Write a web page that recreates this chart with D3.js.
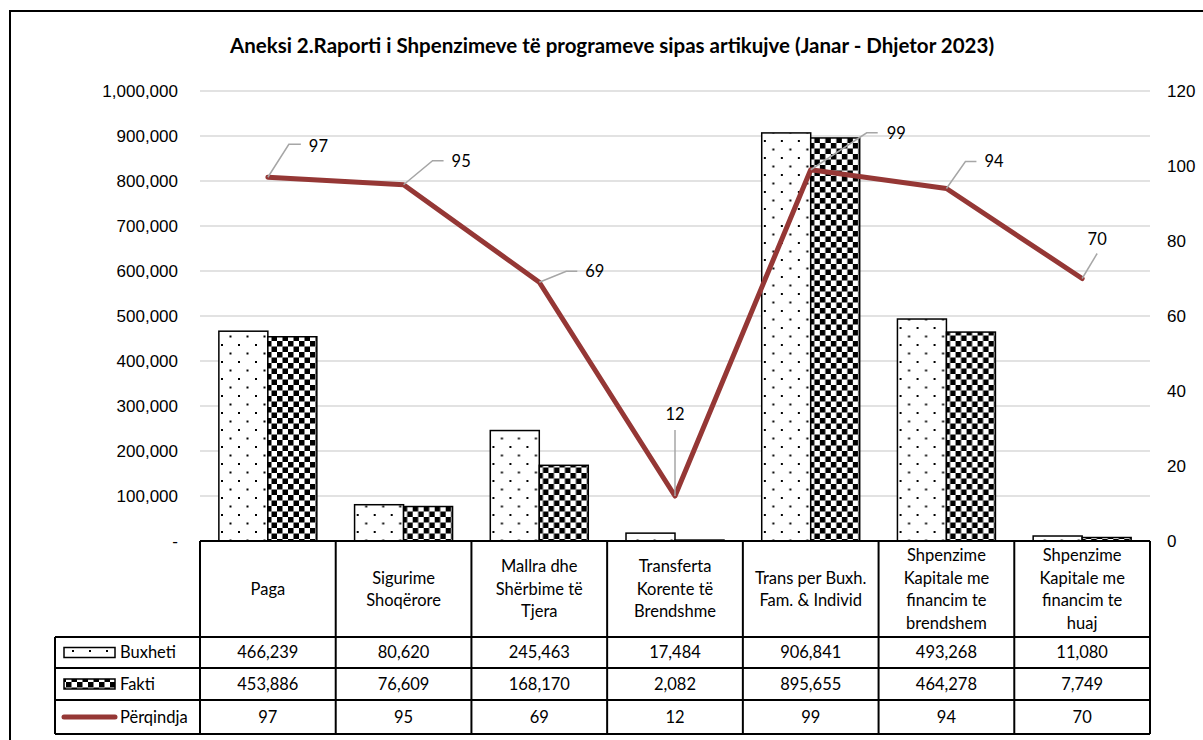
<!DOCTYPE html>
<html>
<head>
<meta charset="UTF-8">
<title>Aneksi 2</title>
<script src="https://cdn.jsdelivr.net/npm/d3@7"></script>
<style>
  body { margin: 0; background: #fff; }
  svg { display: block; font-family: Lato, "Open Sans", sans-serif; }
  .tick text { font-size: 17px; fill: #000; }
  .cell { font-size: 16.5px; fill: #000; }
</style>
</head>
<body>
<svg id="chart" width="1203" height="740"></svg>
<script>
// data
var categories = [
  "Paga",
  "Sigurime\nShoqërore",
  "Mallra dhe\nShërbime të\nTjera",
  "Transferta\nKorente të\nBrendshme",
  "Trans per Buxh.\nFam. & Individ",
  "Shpenzime\nKapitale me\nfinancim te\nbrendshem",
  "Shpenzime\nKapitale me\nfinancim te\nhuaj"
];
var buxheti = [466239, 80620, 245463, 17484, 906841, 493268, 11080];
var fakti = [453886, 76609, 168170, 2082, 895655, 464278, 7749];
var perqindja = [97, 95, 69, 12, 99, 94, 70];
var leftTicks = [0, 100000, 200000, 300000, 400000, 500000, 600000, 700000, 800000, 900000, 1000000];
var rightTicks = [0, 20, 40, 60, 80, 100, 120];
var seriesNames = ["Buxheti", "Fakti", "Përqindja"];

var svg = d3.select("#chart");
var plot = {left: 200, right: 1150, top: 91, bottom: 541};
var lineColor = "#953735";

// outer frame
svg.append("rect").attr("x", 10).attr("y", 11).attr("width", 1300).attr("height", 800)
  .attr("fill", "none").attr("stroke", "#000").attr("stroke-width", 2);

svg.append("text")
  .attr("x", 612).attr("y", 53)
  .attr("text-anchor", "middle")
  .attr("font-size", 20.5).attr("font-weight", "bold")
  .text("Aneksi 2.Raporti i Shpenzimeve të programeve sipas artikujve (Janar - Dhjetor 2023)");

// patterns
var defs = svg.append("defs");
var dots = defs.append("pattern").attr("id", "dots")
  .attr("patternUnits", "userSpaceOnUse").attr("width", 17).attr("height", 17);
dots.append("rect").attr("width", 17).attr("height", 17).attr("fill", "#fff");
dots.append("rect").attr("x", 4).attr("y", 4).attr("width", 2).attr("height", 2).attr("fill", "#000");
dots.append("rect").attr("x", 12.5).attr("y", 12.5).attr("width", 2).attr("height", 2).attr("fill", "#000");

var check = defs.append("pattern").attr("id", "check")
  .attr("patternUnits", "userSpaceOnUse").attr("width", 11).attr("height", 11);
check.append("rect").attr("width", 11).attr("height", 11).attr("fill", "#fff");
check.append("rect").attr("width", 5.5).attr("height", 5.5).attr("fill", "#000");
check.append("rect").attr("x", 5.5).attr("y", 5.5).attr("width", 5.5).attr("height", 5.5).attr("fill", "#000");

// scales
var x = d3.scaleBand().domain(categories).range([plot.left, plot.right]);
var xs = d3.scaleBand().domain(["Buxheti", "Fakti"]).range([0, x.bandwidth()]).paddingOuter(0.385);
var y = d3.scaleLinear().domain([0, 1000000]).range([plot.bottom, plot.top]);
var y2 = d3.scaleLinear().domain([0, 120]).range([plot.bottom, plot.top]);

// gridlines
svg.append("g").selectAll("line").data(leftTicks.slice(1)).enter().append("line")
  .attr("x1", plot.left).attr("x2", plot.right)
  .attr("y1", function(d){ return y(d); }).attr("y2", function(d){ return y(d); })
  .attr("stroke", "#d9d9d9").attr("stroke-width", 1.5);

// axes
var yAxis = svg.append("g").attr("transform", "translate(" + plot.left + ",0)")
  .call(d3.axisLeft(y).tickValues(leftTicks).tickSize(0).tickPadding(22)
    .tickFormat(function(d){ return d === 0 ? "-" : d3.format(",")(d); }));
yAxis.select(".domain").remove();
yAxis.selectAll("text").attr("font-family", null);

var yAxis2 = svg.append("g").attr("transform", "translate(" + plot.right + ",0)")
  .call(d3.axisRight(y2).tickValues(rightTicks).tickSize(0).tickPadding(17));
yAxis2.select(".domain").remove();
yAxis2.selectAll("text").attr("font-family", null);

// bars
var groups = svg.append("g").selectAll("g").data(categories).enter().append("g")
  .attr("transform", function(d){ return "translate(" + x(d) + ",0)"; });
groups.append("rect")
  .attr("x", xs("Buxheti")).attr("width", xs.bandwidth())
  .attr("y", function(d, i){ return y(buxheti[i]); })
  .attr("height", function(d, i){ return y(0) - y(buxheti[i]); })
  .attr("fill", "url(#dots)").attr("stroke", "#000").attr("stroke-width", 1.5);
groups.append("rect")
  .attr("x", xs("Fakti")).attr("width", xs.bandwidth())
  .attr("y", function(d, i){ return y(fakti[i]); })
  .attr("height", function(d, i){ return y(0) - y(fakti[i]); })
  .attr("fill", "url(#check)").attr("stroke", "#000").attr("stroke-width", 1.5);

// line
var cx = function(i){ return x(categories[i]) + x.bandwidth() / 2; };
var line = d3.line().x(function(d, i){ return cx(i); }).y(function(d){ return y2(d); });
svg.append("path").datum(perqindja).attr("d", line)
  .attr("fill", "none").attr("stroke", lineColor).attr("stroke-width", 5)
  .attr("stroke-linejoin", "round").attr("stroke-linecap", "round");

// data labels with leader lines: [leader dx, leader dy, tail length, label dx, label dy]
var labelPlace = [
  [21, -33, 12, 41, -31],
  [29, -24, 11, 48, -24],
  [27, -11, 11, 46, -11],
  [0, -66, 0, 0, -82],
  [56, -37, 11, 76, -37],
  [19, -27, 11, 38, -27],
  [15, -25, 0, 15, -39]
];
var labels = svg.append("g");
perqindja.forEach(function(v, i){
  var p = labelPlace[i], px = cx(i), py = y2(v);
  var pts = [[px, py], [px + p[0], py + p[1]], [px + p[0] + p[2], py + p[1]]];
  labels.append("path").attr("d", d3.line()(pts))
    .attr("fill", "none").attr("stroke", "#a6a6a6").attr("stroke-width", 1.5);
  labels.append("text").attr("class", "cell")
    .attr("x", px + p[3]).attr("y", py + p[4]).attr("dy", "0.35em")
    .attr("text-anchor", p[2] === 0 ? "middle" : "start")
    .text(v);
});

// data table
var rowTop = [637, 668, 700, 734];
var headTop = plot.bottom, tableLeft = 55;
var tbl = svg.append("g").attr("stroke", "#000").attr("stroke-width", 2);
tbl.append("line").attr("x1", plot.left).attr("x2", plot.right).attr("y1", headTop).attr("y2", headTop);
rowTop.forEach(function(r){
  tbl.append("line").attr("x1", tableLeft).attr("x2", plot.right).attr("y1", r).attr("y2", r);
});
tbl.append("line").attr("x1", tableLeft).attr("x2", tableLeft).attr("y1", rowTop[0]).attr("y2", rowTop[3]);
categories.forEach(function(c){
  tbl.append("line").attr("x1", x(c)).attr("x2", x(c)).attr("y1", headTop).attr("y2", rowTop[3]);
});
tbl.append("line").attr("x1", plot.right).attr("x2", plot.right).attr("y1", headTop).attr("y2", rowTop[3]);

// header text
categories.forEach(function(c){
  var lines = c.split("\n");
  var mid = (headTop + rowTop[0]) / 2;
  lines.forEach(function(l, j){
    svg.append("text").attr("class", "cell")
      .attr("x", x(c) + x.bandwidth() / 2)
      .attr("y", mid + (j - (lines.length - 1) / 2) * 22.5)
      .attr("dy", "0.35em").attr("text-anchor", "middle").text(l);
  });
});

// value rows
var rows = [buxheti, fakti, perqindja];
rows.forEach(function(vals, r){
  var mid = (rowTop[r] + rowTop[r + 1]) / 2;
  vals.forEach(function(v, i){
    svg.append("text").attr("class", "cell")
      .attr("x", cx(i)).attr("y", mid).attr("dy", "0.35em")
      .attr("text-anchor", "middle")
      .text(r < 2 ? d3.format(",")(v) : v);
  });
  svg.append("text").attr("class", "cell")
    .attr("x", 120).attr("y", mid).attr("dy", "0.35em").text(seriesNames[r]);
});

// legend keys
var m0 = (rowTop[0] + rowTop[1]) / 2, m1 = (rowTop[1] + rowTop[2]) / 2, m2 = (rowTop[2] + rowTop[3]) / 2;
svg.append("rect").attr("x", 64).attr("y", m0 - 5).attr("width", 51).attr("height", 10)
  .attr("fill", "url(#dots)").attr("stroke", "#000").attr("stroke-width", 1.5);
svg.append("rect").attr("x", 64).attr("y", m1 - 5).attr("width", 51).attr("height", 10)
  .attr("fill", "url(#check)").attr("stroke", "#000").attr("stroke-width", 1.5);
svg.append("line").attr("x1", 64).attr("x2", 115).attr("y1", m2).attr("y2", m2)
  .attr("stroke", lineColor).attr("stroke-width", 5).attr("stroke-linecap", "round");
</script>
</body>
</html>
